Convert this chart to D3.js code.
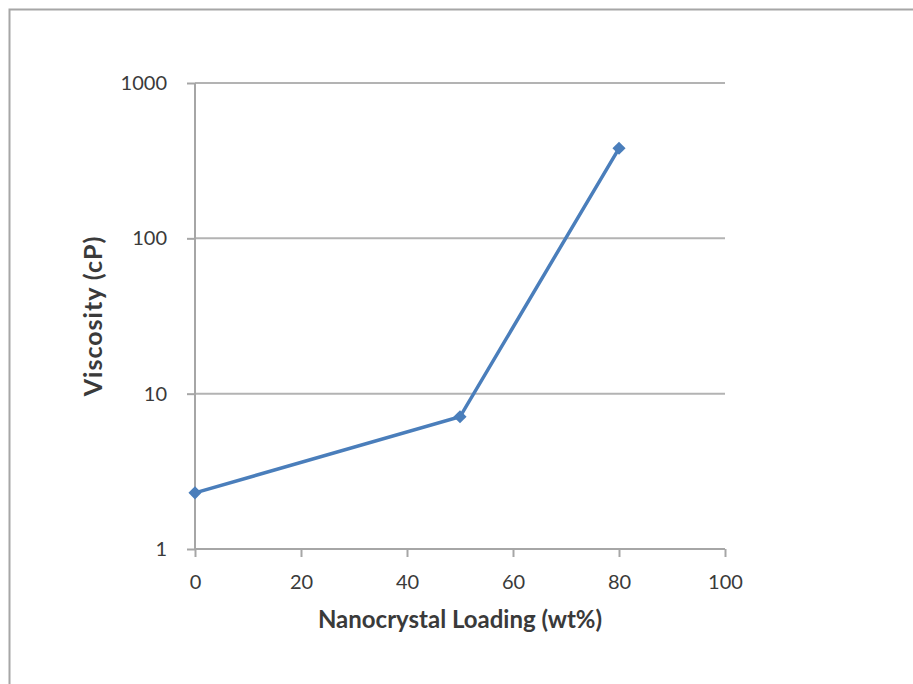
<!DOCTYPE html>
<html>
<head>
<meta charset="utf-8">
<script src="https://cdn.jsdelivr.net/npm/d3@7"></script>
<style>
  body { margin: 0; background: #fff; }
  svg { display: block; }
  text { font-family: Lato, "Open Sans", sans-serif; fill: #3a3a3a; }
</style>
</head>
<body>
<div id="chart"></div>
<script>
// data
const loading = [0, 50, 80];
const viscosity = [2.3, 7.1, 380];
const xTicks = [0, 20, 40, 60, 80, 100];
const yTicks = [1, 10, 100, 1000];

const width = 913;
const height = 684;
const margin = { left: 195, right: 188, top: 83, bottom: 135 };

const svg = d3
  .select("#chart")
  .append("svg")
  .attr("width", width)
  .attr("height", height);

// outer frame (only top and left edges visible)
svg
  .append("path")
  .attr("d", `M9.5,${height} V9.5 H${width}`)
  .attr("fill", "none")
  .attr("stroke", "#a6a6a6")
  .attr("stroke-width", 2);

const x = d3
  .scaleLinear()
  .domain([0, 100])
  .range([margin.left, width - margin.right]);

const y = d3
  .scaleLog()
  .domain([1, 1000])
  .range([height - margin.bottom, margin.top]);

//gridlines
svg
  .append("g")
  .selectAll("line")
  .data(yTicks)
  .enter()
  .append("line")
  .attr("x1", x(0))
  .attr("x2", x(100))
  .attr("y1", (d) => y(d))
  .attr("y2", (d) => y(d))
  .attr("stroke", "#b3b3b3")
  .attr("stroke-width", 2);

//x axis
const xAxis = svg
  .append("g")
  .attr("transform", `translate(0,${y(1)})`)
  .call(d3.axisBottom(x).tickValues(xTicks).tickSize(8).tickPadding(18));

//y axis
const yAxis = svg
  .append("g")
  .attr("transform", `translate(${x(0)},0)`)
  .call(
    d3.axisLeft(y).tickValues(yTicks).tickFormat(d3.format("d")).tickSize(8).tickPadding(20)
  );

[xAxis, yAxis].forEach((g) => {
  g.select(".domain").attr("stroke", "#a6a6a6").attr("stroke-width", 2);
  g.selectAll(".tick line").attr("stroke", "#a6a6a6").attr("stroke-width", 2);
  g.selectAll(".tick text")
    .style("font-family", "Lato, 'Open Sans', sans-serif")
    .style("font-size", "20px")
    .attr("fill", "#3a3a3a");
});
// domain path includes outer ticks; redraw plain lines
xAxis.select(".domain").attr("d", `M${x(0)},0H${x(100)}`);
yAxis.select(".domain").attr("d", `M0,${y(1)}V${y(1000)}`);

//axis titles
svg
  .append("text")
  .attr("x", 460)
  .attr("y", 628)
  .attr("text-anchor", "middle")
  .style("font-size", "24px")
  .style("font-weight", "bold")
  .text("Nanocrystal Loading (wt%)");

svg
  .append("text")
  .attr("transform", `translate(102,316) rotate(-90)`)
  .attr("text-anchor", "middle")
  .style("font-size", "25px")
  .style("font-weight", "bold")
  .style("letter-spacing", "1px")
  .text("Viscosity (cP)");

//line
const points = loading.map((d, i) => [d, viscosity[i]]);
const line = d3
  .line()
  .x((d) => x(d[0]))
  .y((d) => y(d[1]));

svg
  .append("path")
  .datum(points)
  .attr("d", line)
  .attr("fill", "none")
  .attr("stroke", "#4a7ebb")
  .attr("stroke-width", 3.5);

//diamond markers
svg
  .selectAll("marker-pt")
  .data(points)
  .enter()
  .append("path")
  .attr("d", d3.symbol().type(d3.symbolDiamond2).size(110))
  .attr("transform", (d) => `translate(${x(d[0])},${y(d[1])})`)
  .attr("fill", "#4a7ebb");
</script>
</body>
</html>
